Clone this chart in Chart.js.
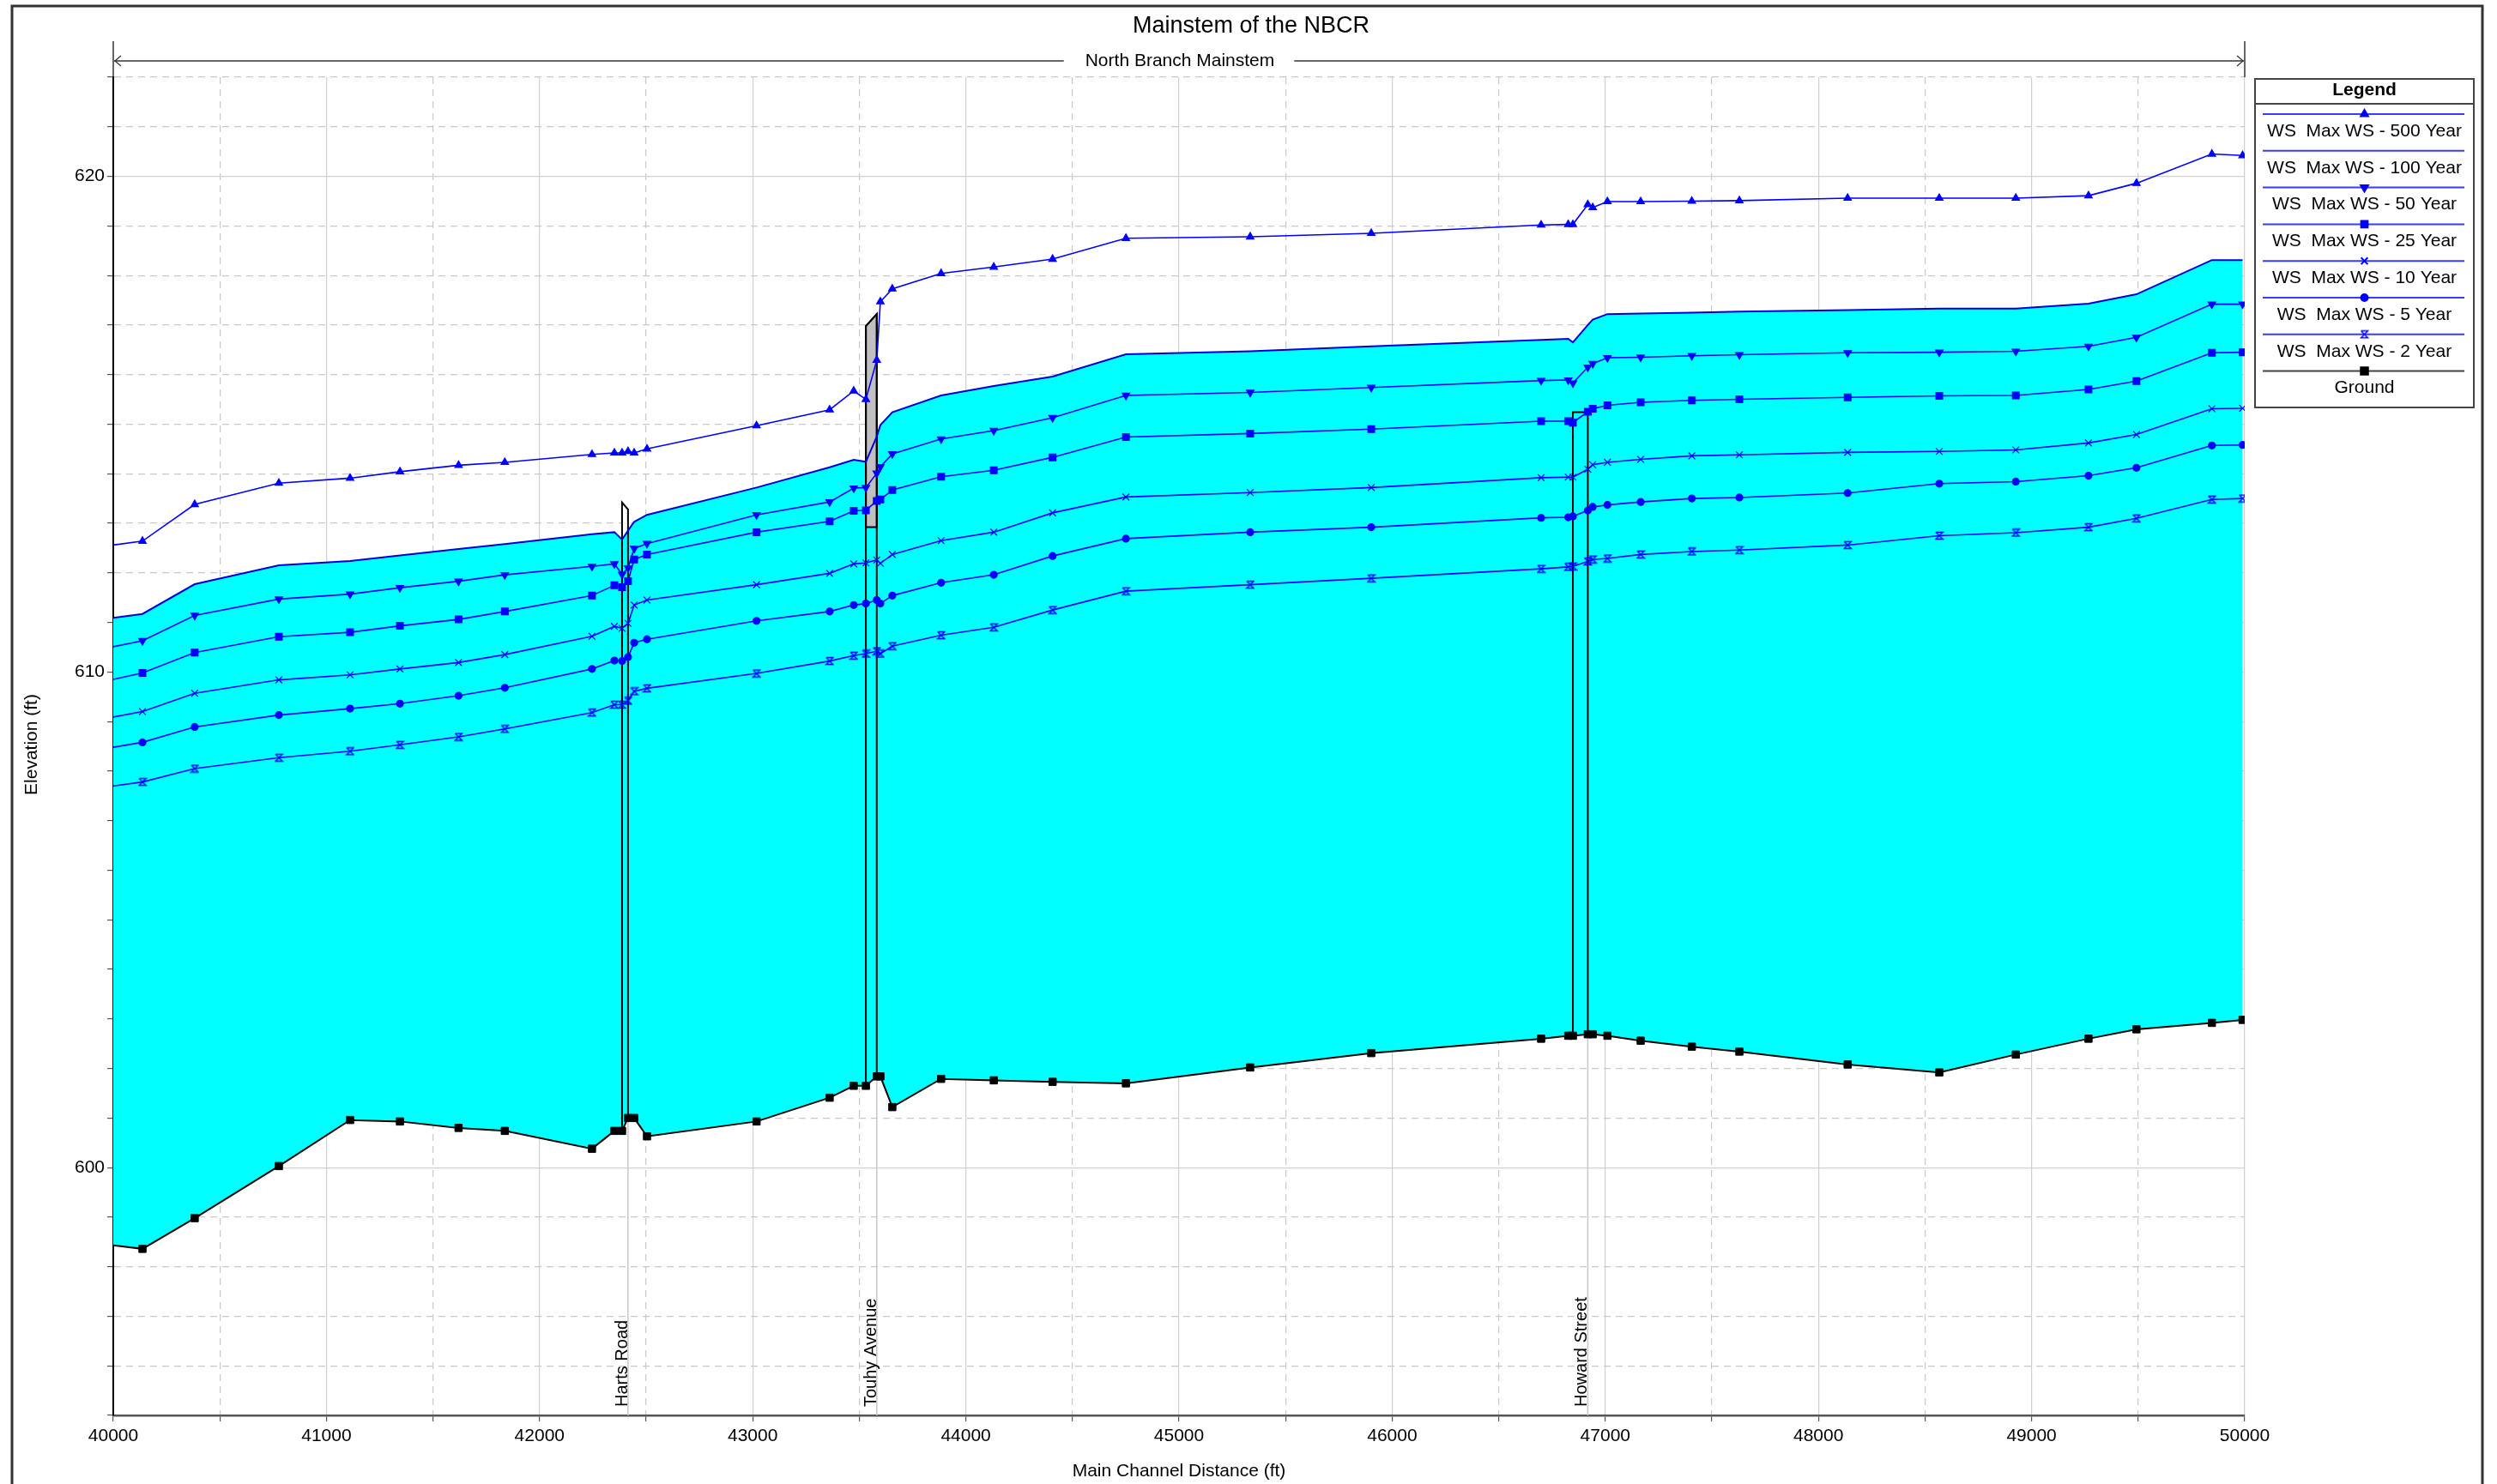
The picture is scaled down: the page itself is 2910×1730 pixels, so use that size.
<!DOCTYPE html>
<html>
<head>
<meta charset="utf-8">
<title>Mainstem of the NBCR</title>
<script src="https://cdn.jsdelivr.net/npm/chart.js@4.4.1/dist/chart.umd.min.js"></script>
<style>
  html, body { margin: 0; padding: 0; background: #fff; }
  #wrap { width: 2910px; height: 1730px; }
</style>
</head>
<body>
<div id="wrap"><canvas id="profileChart" width="2910" height="1730"></canvas></div>
<script>
// Main channel stations (ft)
const stations = [40000, 40137, 40382, 40777, 41111, 41345, 41620, 41837, 42246, 42351,
  42387, 42415, 42444, 42504, 43018, 43361, 43474, 43531, 43582, 43599,
  43655, 43884, 44131, 44407, 44751, 45334, 45902, 46699, 46826, 46848,
  46918, 46941, 47010, 47166, 47406, 47629, 48137, 48567, 48926, 49267,
  49492, 49846, 49990];

// Water surface elevations (ft) per profile
const ws500 = [612.56, 612.64, 613.38, 613.81, 613.91, 614.04, 614.17, 614.23, 614.39, 614.42,
  614.42, 614.45, 614.42, 614.50, 614.97, 615.29, 615.67, 615.50, 616.29, 617.47,
  617.73, 618.04, 618.17, 618.33, 618.75, 618.78, 618.85, 619.02, 619.03, 619.03,
  619.43, 619.37, 619.49, 619.49, 619.50, 619.51, 619.56, 619.56, 619.56, 619.61,
  619.86, 620.45, 620.42];
const ws100 = [611.09, 611.17, 611.77, 612.15, 612.24, 612.35, 612.48, 612.58, 612.78, 612.82,
  612.67, 612.85, 613.03, 613.17, 613.72, 614.13, 614.28, 614.24, 614.75, 614.98,
  615.24, 615.58, 615.77, 615.96, 616.41, 616.47, 616.57, 616.70, 616.72, 616.65,
  617.00, 617.11, 617.22, 617.23, 617.25, 617.27, 617.30, 617.33, 617.33, 617.43,
  617.62, 618.31, 618.31];
const ws50 = [610.51, 610.63, 611.14, 611.47, 611.57, 611.70, 611.83, 611.96, 612.13, 612.18,
  611.97, 612.10, 612.49, 612.59, 613.17, 613.43, 613.71, 613.72, 614.01, 614.14,
  614.40, 614.70, 614.87, 615.13, 615.58, 615.64, 615.74, 615.88, 615.89, 615.83,
  616.15, 616.22, 616.34, 616.35, 616.38, 616.40, 616.44, 616.45, 616.47, 616.57,
  616.75, 617.42, 617.42];
const ws25 = [609.85, 609.98, 610.39, 610.71, 610.80, 610.93, 611.06, 611.22, 611.54, 611.75,
  611.71, 611.83, 612.27, 612.37, 612.82, 613.04, 613.25, 613.26, 613.45, 613.48,
  613.67, 613.94, 614.07, 614.33, 614.74, 614.81, 614.90, 615.06, 615.06, 615.03,
  615.25, 615.31, 615.38, 615.44, 615.48, 615.50, 615.54, 615.57, 615.58, 615.70,
  615.87, 616.44, 616.45];
const ws10 = [609.09, 609.20, 609.57, 609.84, 609.94, 610.06, 610.19, 610.35, 610.72, 610.92,
  610.88, 610.98, 611.35, 611.45, 611.76, 611.99, 612.18, 612.20, 612.26, 612.19,
  612.37, 612.65, 612.82, 613.21, 613.53, 613.62, 613.72, 613.92, 613.93, 613.93,
  614.09, 614.18, 614.23, 614.29, 614.36, 614.38, 614.43, 614.45, 614.48, 614.62,
  614.79, 615.31, 615.32];
const ws5 = [608.48, 608.58, 608.89, 609.13, 609.26, 609.36, 609.52, 609.68, 610.06, 610.23,
  610.22, 610.30, 610.59, 610.66, 611.03, 611.22, 611.35, 611.38, 611.45, 611.38,
  611.54, 611.80, 611.96, 612.34, 612.69, 612.82, 612.92, 613.11, 613.12, 613.14,
  613.26, 613.33, 613.37, 613.43, 613.50, 613.52, 613.61, 613.80, 613.84, 613.96,
  614.12, 614.57, 614.58];
const ws2 = [607.70, 607.78, 608.05, 608.27, 608.40, 608.53, 608.69, 608.85, 609.18, 609.34,
  609.34, 609.42, 609.61, 609.67, 609.97, 610.22, 610.33, 610.37, 610.42, 610.37,
  610.52, 610.74, 610.90, 611.25, 611.63, 611.76, 611.89, 612.08, 612.12, 612.13,
  612.23, 612.27, 612.29, 612.37, 612.43, 612.46, 612.56, 612.75, 612.81, 612.92,
  613.10, 613.48, 613.50];
const ground = [598.43, 598.36, 598.98, 600.03, 600.96, 600.93, 600.80, 600.74, 600.38, 600.74,
  600.74, 601.00, 601.00, 600.63, 600.93, 601.41, 601.65, 601.65, 601.84, 601.84,
  601.22, 601.79, 601.76, 601.73, 601.70, 602.02, 602.31, 602.60, 602.66, 602.66,
  602.69, 602.69, 602.66, 602.56, 602.44, 602.34, 602.08, 601.92, 602.28, 602.60,
  602.79, 602.92, 602.98];

// Bridges: upstream / downstream face stations, high chord, deck bottom
const bridgeNames = ['Harts Road', 'Touhy Avenue', 'Howard Street'];
const bridgeUpSta = [42387, 43531, 46848];
const bridgeDnSta = [42415, 43582, 46918];
const bridgeHighUp = [613.42, 616.98, 615.24];
const bridgeHighDn = [613.28, 617.22, 615.24];
const bridgeLow = [null, 612.92, null];

const xTicksMajor = 1000;
const yTicksMajor = 10;

const fontFamily = "'Liberation Sans', Arial, sans-serif";
const blue = '#0000ff';

function pts(values) {
  return stations.map((x, i) => ({ x: x, y: values[i] }));
}

// first station sits on the axis edge, no marker there
function markerSize(r) {
  return ctx => ctx.dataIndex === 0 ? 0 : r;
}

function makeHourglass() {
  const c = document.createElement('canvas');
  c.width = 11; c.height = 11;
  const g = c.getContext('2d');
  g.strokeStyle = blue;
  g.lineWidth = 1.3;
  g.beginPath();
  g.moveTo(1.5, 1.5); g.lineTo(9.5, 1.5); g.lineTo(1.5, 9.5);
  g.lineTo(9.5, 9.5); g.lineTo(1.5, 1.5);
  g.stroke();
  return c;
}

function wsSeries(label, values, style, r, rot) {
  return {
    label: label,
    data: pts(values),
    borderColor: blue,
    backgroundColor: blue,
    borderWidth: 1.6,
    pointStyle: style,
    pointRadius: markerSize(r),
    pointRotation: rot || 0,
    pointBorderColor: blue,
    pointBackgroundColor: blue,
    pointBorderWidth: 1.2,
    fill: false,
    order: 1
  };
}

const datasets = [
  wsSeries('WS  Max WS - 500 Year', ws500, 'triangle', 5),
  {
    label: 'WS  Max WS - 100 Year',
    data: pts(ws100),
    borderColor: '#0000dd',
    backgroundColor: '#00ffff',
    borderWidth: 2,
    pointRadius: 0,
    fill: 7,
    order: 3
  },
  wsSeries('WS  Max WS - 50 Year', ws50, 'triangle', 5, 180),
  wsSeries('WS  Max WS - 25 Year', ws25, 'rect', 5.5),
  wsSeries('WS  Max WS - 10 Year', ws10, 'crossRot', 5.5),
  wsSeries('WS  Max WS - 5 Year', ws5, 'circle', 4),
  wsSeries('WS  Max WS - 2 Year', ws2, makeHourglass(), 5),
  {
    label: 'Ground',
    data: pts(ground),
    borderColor: '#000',
    backgroundColor: '#000',
    borderWidth: 2,
    pointStyle: 'rect',
    pointRadius: markerSize(6),
    pointBackgroundColor: '#000',
    pointBorderColor: '#000',
    pointBorderWidth: 1,
    fill: false,
    order: 2
  }
];

function groundAt(sta) {
  return ground[stations.indexOf(sta)];
}

// bridge decks and piers
function drawBridges(chart, pass) {
  const ctx = chart.ctx;
  const xs = chart.scales.x, ys = chart.scales.y;
  for (let i = 0; i < bridgeNames.length; i++) {
    const xl = xs.getPixelForValue(bridgeUpSta[i]);
    const xr = xs.getPixelForValue(bridgeDnSta[i]);
    const tl = ys.getPixelForValue(bridgeHighUp[i]);
    const tr = ys.getPixelForValue(bridgeHighDn[i]);
    const gl = ys.getPixelForValue(groundAt(bridgeUpSta[i]));
    const gr = ys.getPixelForValue(groundAt(bridgeDnSta[i]));
    ctx.save();
    if (pass === 'under') {
      ctx.strokeStyle = '#c8c8c8';
      ctx.lineWidth = 1.5;
      ctx.beginPath();
      ctx.moveTo(xr, gr);
      ctx.lineTo(xr, chart.chartArea.bottom);
      ctx.stroke();
      ctx.fillStyle = '#fff';
      ctx.beginPath();
      ctx.moveTo(xl, gl); ctx.lineTo(xl, tl); ctx.lineTo(xr, tr); ctx.lineTo(xr, gr);
      ctx.closePath();
      ctx.fill();
    } else {
      if (bridgeLow[i] !== null) {
        const lo = ys.getPixelForValue(bridgeLow[i]);
        ctx.fillStyle = '#c0c0c0';
        ctx.beginPath();
        ctx.moveTo(xl, lo); ctx.lineTo(xl, tl); ctx.lineTo(xr, tr); ctx.lineTo(xr, lo);
        ctx.closePath();
        ctx.fill();
        ctx.strokeStyle = '#000';
        ctx.lineWidth = 2;
        ctx.stroke();
      }
      ctx.strokeStyle = '#000';
      ctx.lineWidth = 2;
      ctx.beginPath();
      ctx.moveTo(xl, gl); ctx.lineTo(xl, tl); ctx.lineTo(xr, tr); ctx.lineTo(xr, gr);
      ctx.stroke();
    }
    ctx.restore();
  }
}

const bridgePlugin = {
  id: 'bridges',
  beforeDatasetsDraw(chart) {
    drawBridges(chart, 'under');
  },
  beforeDatasetDraw(chart, args) {
    // right after the water fill, before any profile line
    if (args.index === 1) drawBridges(chart, 'over');
  },
  afterDatasetsDraw(chart) {
    const ctx = chart.ctx;
    const xs = chart.scales.x;
    ctx.save();
    ctx.fillStyle = '#000';
    ctx.font = '20px ' + fontFamily;
    ctx.textAlign = 'left';
    ctx.textBaseline = 'alphabetic';
    for (let i = 0; i < bridgeNames.length; i++) {
      const xr = xs.getPixelForValue(bridgeDnSta[i]);
      ctx.save();
      ctx.translate(xr - 1, chart.chartArea.bottom - 10);
      ctx.rotate(-Math.PI / 2);
      ctx.fillText(bridgeNames[i], 0, 0);
      ctx.restore();
    }
    ctx.restore();
  }
};

// titles, reach arrow, frame
const decorPlugin = {
  id: 'decor',
  afterDraw(chart) {
    const ctx = chart.ctx;
    const area = chart.chartArea;
    ctx.save();
    ctx.fillStyle = '#000';
    ctx.textAlign = 'center';
    ctx.textBaseline = 'middle';

    ctx.font = '27px ' + fontFamily;
    ctx.fillText('Mainstem of the NBCR', 1458, 31);

    ctx.font = '21px ' + fontFamily;
    ctx.fillText('Main Channel Distance (ft)', (area.left + area.right) / 2, 1715);

    ctx.save();
    ctx.translate(37, 868);
    ctx.rotate(-Math.PI / 2);
    ctx.fillText('Elevation (ft)', 0, 0);
    ctx.restore();

    // reach arrow
    const midX = (area.left + area.right) / 2;
    const ay = 71;
    ctx.fillText('North Branch Mainstem', midX + 1, ay);
    const half = ctx.measureText('North Branch Mainstem').width / 2 + 24;
    ctx.strokeStyle = '#000';
    ctx.lineWidth = 1.2;
    ctx.beginPath();
    ctx.moveTo(area.left, 48); ctx.lineTo(area.left, area.top);
    ctx.moveTo(area.right, 48); ctx.lineTo(area.right, area.top);
    ctx.stroke();
    ctx.strokeStyle = '#666';
    ctx.lineWidth = 2;
    ctx.beginPath();
    ctx.moveTo(area.left + 1, ay); ctx.lineTo(midX - half, ay);
    ctx.moveTo(midX + half, ay); ctx.lineTo(area.right - 1, ay);
    ctx.stroke();
    ctx.lineWidth = 1.2;
    ctx.strokeStyle = '#333';
    ctx.beginPath();
    ctx.moveTo(area.left + 9, ay - 6); ctx.lineTo(area.left + 2, ay); ctx.lineTo(area.left + 9, ay + 6);
    ctx.moveTo(area.right - 9, ay - 6); ctx.lineTo(area.right - 2, ay); ctx.lineTo(area.right - 9, ay + 6);
    ctx.stroke();

    // outer frame
    ctx.strokeStyle = '#333';
    ctx.lineWidth = 3;
    ctx.strokeRect(14, 7, 2879, 1740);
    ctx.restore();
  }
};

// boxed legend on the right
const legendPlugin = {
  id: 'boxLegend',
  afterDraw(chart) {
    const ctx = chart.ctx;
    const left = 2628, top = 92, w = 255, h = 383;
    const cx = left + w / 2;
    ctx.save();
    ctx.fillStyle = '#fff';
    ctx.fillRect(left, top, w, h);
    ctx.strokeStyle = '#444';
    ctx.lineWidth = 2;
    ctx.strokeRect(left, top, w, h);
    ctx.beginPath();
    ctx.moveTo(left, top + 29); ctx.lineTo(left + w, top + 29);
    ctx.stroke();

    ctx.fillStyle = '#000';
    ctx.textAlign = 'center';
    ctx.textBaseline = 'middle';
    ctx.font = 'bold 21px ' + fontFamily;
    ctx.fillText('Legend', cx, top + 13);

    ctx.font = '21px ' + fontFamily;
    chart.data.datasets.forEach((ds, i) => {
      const ly = 133 + i * 42.8;
      const isGround = ds.label === 'Ground';
      ctx.strokeStyle = isGround ? '#444' : '#3a3aff';
      ctx.lineWidth = 2;
      ctx.beginPath();
      ctx.moveTo(2637, ly); ctx.lineTo(2872, ly);
      ctx.stroke();
      const r = typeof ds.pointRadius === 'function' ? ds.pointRadius({ dataIndex: 1 }) : ds.pointRadius;
      if (r > 0) {
        ctx.fillStyle = ds.pointBackgroundColor;
        ctx.strokeStyle = ds.pointBorderColor;
        Chart.helpers.drawPoint(ctx, {
          pointStyle: ds.pointStyle,
          rotation: ds.pointRotation || 0,
          radius: r,
          borderWidth: ds.pointBorderWidth
        }, cx, ly);
      }
      ctx.fillStyle = '#000';
      ctx.fillText(ds.label, cx, ly + 20);
    });
    ctx.restore();
  }
};

const ctx = document.getElementById('profileChart').getContext('2d');
const profileChart = new Chart(ctx, {
  type: 'line',
  data: { datasets: datasets },
  options: {
    responsive: false,
    devicePixelRatio: 1,
    animation: false,
    events: [],
    layout: { padding: { left: 0, top: 90, right: 294, bottom: 0 } },
    elements: { line: { tension: 0 } },
    plugins: {
      legend: { display: false },
      title: { display: false },
      tooltip: { enabled: false }
    },
    scales: {
      x: {
        type: 'linear',
        min: 40000,
        max: 50000,
        ticks: {
          stepSize: 500,
          autoSkip: false,
          maxRotation: 0,
          padding: 5,
          color: '#000',
          font: { family: fontFamily, size: 21 },
          callback: v => v % xTicksMajor === 0 ? String(v) : ''
        },
        grid: {
          color: c => c.tick && c.tick.value % xTicksMajor !== 0 ? '#c8c8c8' : '#d0d0d0',
          lineWidth: 1.2,
          tickLength: 7,
          tickColor: '#555'
        },
        border: {
          color: '#555',
          width: 2.5,
          dash: c => c.tick && c.tick.value % xTicksMajor !== 0 ? [8, 6] : []
        },
        afterFit: s => { s.height = 80; }
      },
      y: {
        type: 'linear',
        min: 595,
        max: 622,
        ticks: {
          stepSize: 1,
          autoSkip: false,
          padding: 3,
          color: '#000',
          font: { family: fontFamily, size: 21 },
          callback: v => v % yTicksMajor === 0 ? String(v) : ''
        },
        grid: {
          color: c => c.tick && c.tick.value % yTicksMajor !== 0 ? '#c8c8c8' : '#d0d0d0',
          lineWidth: 1.2,
          tickLength: 7,
          tickColor: '#555'
        },
        border: {
          color: '#000',
          width: 2,
          dash: c => c.tick && c.tick.value % yTicksMajor !== 0 ? [8, 6] : []
        },
        afterFit: s => { s.width = 132; }
      }
    }
  },
  plugins: [bridgePlugin, decorPlugin, legendPlugin]
});
</script>
</body>
</html>
